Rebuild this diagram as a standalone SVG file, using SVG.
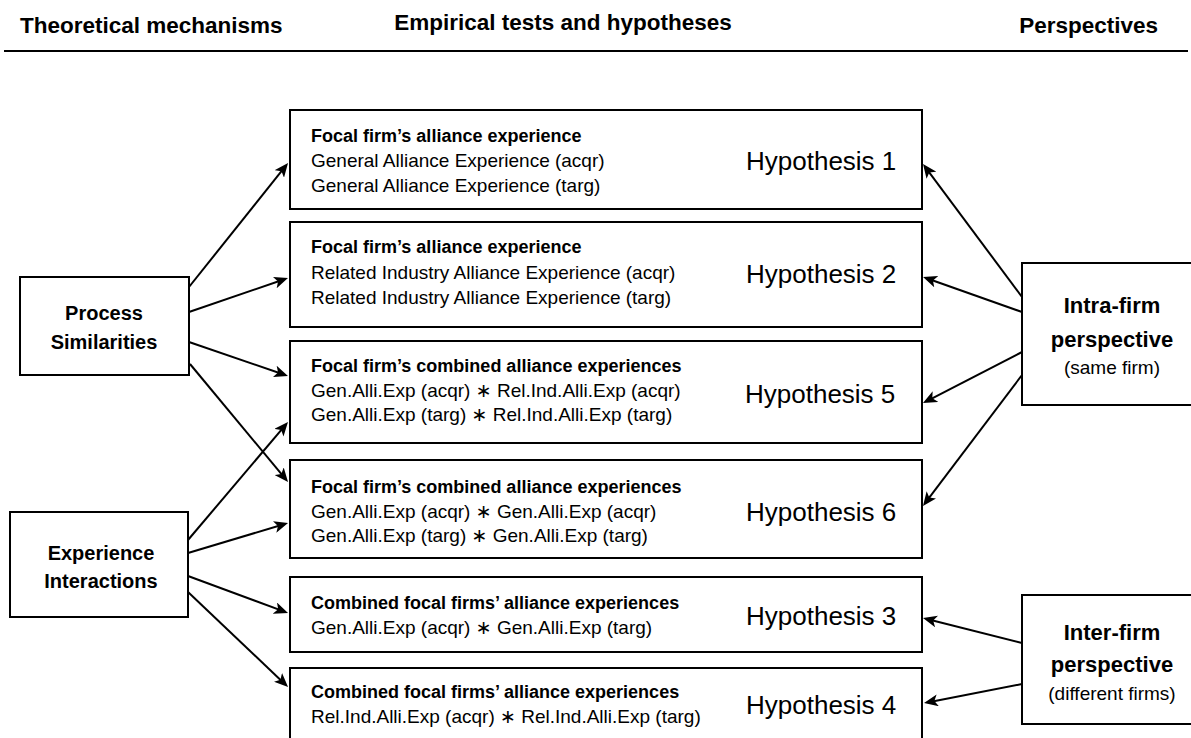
<svg xmlns="http://www.w3.org/2000/svg" width="1191" height="738" viewBox="0 0 1191 738">
<defs>
<style>
.box{fill:#fff;stroke:#000;stroke-width:2}
.hdr{font-family:"Liberation Sans",Arial,sans-serif;font-weight:bold;font-size:22.5px;fill:#000}
.lbl{font-family:"Liberation Sans",Arial,sans-serif;font-weight:bold;font-size:20px;fill:#000;text-anchor:middle}
.plbl{font-family:"Liberation Sans",Arial,sans-serif;font-weight:bold;font-size:22px;fill:#000;text-anchor:middle}
.sub{font-family:"Liberation Sans",Arial,sans-serif;font-size:19px;fill:#000;text-anchor:middle}
.ttl{font-family:"Liberation Sans",Arial,sans-serif;font-weight:bold;font-size:18px;fill:#000}
.txt{font-family:"Liberation Sans","DejaVu Sans",Arial,sans-serif;font-size:19px;fill:#000}
.hyp{font-family:"Liberation Sans",Arial,sans-serif;font-size:26px;fill:#000}
.conn line{stroke:#000;stroke-width:2;marker-end:url(#arr)}
</style>
<marker id="arr" markerUnits="userSpaceOnUse" markerWidth="14" markerHeight="12" viewBox="0 0 14 12" refX="8" refY="6" orient="auto">
<path d="M0,0 L14,6 L0,12 L3.5,6 Z" fill="#000"/>
</marker>
</defs>
<rect width="1191" height="738" fill="#fff"/>

<g id="header">
<text class="hdr" x="20" y="33">Theoretical mechanisms</text>
<text class="hdr" x="563" y="30" text-anchor="middle">Empirical tests and hypotheses</text>
<text class="hdr" x="1158" y="33" text-anchor="end">Perspectives</text>
<line x1="4" y1="51" x2="1188" y2="51" stroke="#000" stroke-width="2"/>
</g>

<g id="process-similarities">
<rect class="box" x="20" y="277" width="169" height="98"/>
<text class="lbl" x="104" y="320">Process</text>
<text class="lbl" x="104" y="349">Similarities</text>
</g>

<g id="experience-interactions">
<rect class="box" x="10" y="512" width="178" height="105"/>
<text class="lbl" x="101" y="560">Experience</text>
<text class="lbl" x="101" y="588">Interactions</text>
</g>

<g id="h1">
<rect class="box" x="290" y="110" width="632" height="99"/>
<text class="ttl" x="311" y="142">Focal firm’s alliance experience</text>
<text class="txt" x="311" y="167">General Alliance Experience (acqr)</text>
<text class="txt" x="311" y="192">General Alliance Experience (targ)</text>
<text class="hyp" x="746" y="170">Hypothesis 1</text>
</g>

<g id="h2">
<rect class="box" x="290" y="222" width="632" height="105"/>
<text class="ttl" x="311" y="253">Focal firm’s alliance experience</text>
<text class="txt" x="311" y="279">Related Industry Alliance Experience (acqr)</text>
<text class="txt" x="311" y="304">Related Industry Alliance Experience (targ)</text>
<text class="hyp" x="746" y="283">Hypothesis 2</text>
</g>

<g id="h5">
<rect class="box" x="290" y="341" width="632" height="102"/>
<text class="ttl" x="311" y="372">Focal firm’s combined alliance experiences</text>
<text class="txt" x="311" y="397">Gen.Alli.Exp (acqr) ∗ Rel.Ind.Alli.Exp (acqr)</text>
<text class="txt" x="311" y="421">Gen.Alli.Exp (targ) ∗ Rel.Ind.Alli.Exp (targ)</text>
<text class="hyp" x="745" y="403">Hypothesis 5</text>
</g>

<g id="h6">
<rect class="box" x="290" y="460" width="632" height="98"/>
<text class="ttl" x="311" y="493">Focal firm’s combined alliance experiences</text>
<text class="txt" x="311" y="518">Gen.Alli.Exp (acqr) ∗ Gen.Alli.Exp (acqr)</text>
<text class="txt" x="311" y="542">Gen.Alli.Exp (targ) ∗ Gen.Alli.Exp (targ)</text>
<text class="hyp" x="746" y="521">Hypothesis 6</text>
</g>

<g id="h3">
<rect class="box" x="290" y="577" width="632" height="75"/>
<text class="ttl" x="311" y="609">Combined focal firms’ alliance experiences</text>
<text class="txt" x="311" y="634">Gen.Alli.Exp (acqr) ∗ Gen.Alli.Exp (targ)</text>
<text class="hyp" x="746" y="625">Hypothesis 3</text>
</g>

<g id="h4">
<rect class="box" x="290" y="668" width="632" height="80"/>
<text class="ttl" x="311" y="698">Combined focal firms’ alliance experiences</text>
<text class="txt" x="311" y="723">Rel.Ind.Alli.Exp (acqr) ∗ Rel.Ind.Alli.Exp (targ)</text>
<text class="hyp" x="746" y="714">Hypothesis 4</text>
</g>

<g id="intra-firm">
<rect class="box" x="1022" y="263" width="180" height="142"/>
<text class="plbl" x="1112" y="313">Intra-firm</text>
<text class="plbl" x="1112" y="347">perspective</text>
<text class="sub" x="1112" y="374">(same firm)</text>
</g>

<g id="inter-firm">
<rect class="box" x="1022" y="595" width="180" height="129"/>
<text class="plbl" x="1112" y="640">Inter-firm</text>
<text class="plbl" x="1112" y="672">perspective</text>
<text class="sub" x="1112" y="700">(different firms)</text>
</g>

<g id="connectors" class="conn">
<line x1="189" y1="287" x2="284.3" y2="167.7"/>
<line x1="189" y1="312" x2="282.3" y2="280"/>
<line x1="189" y1="342" x2="282.3" y2="374"/>
<line x1="190" y1="364" x2="284.2" y2="477.4"/>
<line x1="188" y1="540" x2="284.1" y2="426.6"/>
<line x1="188" y1="553" x2="282.3" y2="524.7"/>
<line x1="188" y1="576" x2="282.4" y2="610.9"/>
<line x1="188" y1="592" x2="283.7" y2="682.9"/>
<line x1="1022" y1="297" x2="926.6" y2="168.8"/>
<line x1="1022" y1="312" x2="928.7" y2="279"/>
<line x1="1022" y1="352" x2="928.3" y2="400.3"/>
<line x1="1022" y1="375" x2="926.6" y2="501.2"/>
<line x1="1022" y1="643" x2="928.8" y2="619.5"/>
<line x1="1022" y1="684" x2="929.9" y2="701.9"/>
</g>
</svg>
